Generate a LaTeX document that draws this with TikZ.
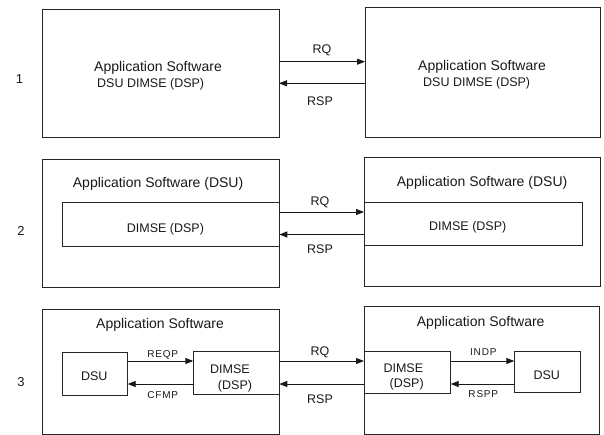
\documentclass[tikz,border=0pt]{standalone}
\usepackage{fontspec}
\setmainfont{Liberation Sans}
\usetikzlibrary{arrows.meta,fit}
\begin{document}
\begin{tikzpicture}[x=1pt,y=-1pt,
  box/.style={draw=black!85, line width=0.8pt, inner sep=0pt, outer sep=0pt},
  arr/.style={draw=black!90, line width=0.9pt, -{Triangle[length=8pt,width=6pt]}},
  big/.style={font=\fontsize{14}{16}\selectfont, text=black!90, inner sep=0pt, anchor=base west},
  midw/.style={font=\fontsize{12.5}{15}\selectfont, text=black!90, inner sep=0pt, anchor=base west},
  lbl/.style={font=\fontsize{12.5}{15}\selectfont, text=black!90, inner sep=0pt, anchor=base},
  small/.style={font=\fontsize{10}{12}\selectfont\addfontfeature{LetterSpace=8}, text=black!90, inner sep=0pt, anchor=base},
  num/.style={font=\fontsize{13}{15}\selectfont, text=black!90, inner sep=0pt, anchor=base}]
\useasboundingbox (0,0) rectangle (604,435);

% ---------- row 1 ----------
\node[box, fit={(42,9) (279,137.5)}] (L1) {};
\node[box, fit={(365,7.5) (600.5,137)}] (R1) {};
\node[num] (n1) at (19.5,83.5) {1};
\node[big] (L1a) at (94,72) {Application Software};
\node[midw] (L1b) at (97,88) {DSU DIMSE (DSP)};
\node[big] (R1a) at (418,71) {Application Software};
\node[midw] (R1b) at (423,87) {DSU DIMSE (DSP)};
\coordinate (y1q) at (0,61.7);
\coordinate (y1s) at (0,83.3);
\draw[arr] (L1.east |- y1q) -- (R1.west |- y1q);
\draw[arr] (R1.west |- y1s) -- (L1.east |- y1s);
\node[lbl] (q1) at (322,53.5) {RQ};
\node[lbl] (s1) at (320,105.5) {RSP};

% ---------- row 2 ----------
\node[box, fit={(42.3,159.3) (279.3,287.7)}] (L2) {};
\node[box, fit={(62.7,202.7) (279.3,246)}] (L2i) {};
\node[box, fit={(364,157.3) (600.5,286.7)}] (R2) {};
\node[box, fit={(364,202.3) (582.7,245)}] (R2i) {};
\node[num] (n2) at (21,236) {2};
\node[big] (L2a) at (72.7,188) {Application Software (DSU)};
\node[midw] (L2b) at (126.7,233) {DIMSE (DSP)};
\node[big] (R2a) at (396.7,187) {Application Software (DSU)};
\node[midw] (R2b) at (429,230.5) {DIMSE (DSP)};
\coordinate (y2q) at (0,212);
\coordinate (y2s) at (0,234.5);
\draw[arr] (L2i.east |- y2q) -- (R2i.west |- y2q);
\draw[arr] (R2i.west |- y2s) -- (L2i.east |- y2s);
\node[lbl] (q2) at (320,205.5) {RQ};
\node[lbl] (s2) at (320,253.5) {RSP};

% ---------- row 3 ----------
\node[box, fit={(42.3,309) (279.3,434)}] (L3) {};
\node[box, fit={(364,306.7) (599,434)}] (R3) {};
\node[box, fit={(62.7,352.3) (127.7,395)}] (L3u) {};
\node[box, fit={(193.3,351.7) (279.3,394.3)}] (L3d) {};
\node[box, fit={(364,351) (450.7,393.3)}] (R3d) {};
\node[box, fit={(514.3,351) (580.7,392.3)}] (R3u) {};
\node[num] (n3) at (21,386) {3};
\node[big] (L3a) at (96,328) {Application Software};
\node[big] (R3a) at (416.7,326.5) {Application Software};
\node[lbl] (L3ut) at (94.3,380.5) {DSU};
\node[lbl] (L3d1) at (230,373.5) {DIMSE};
\node[lbl] (L3d2) at (235,389) {(DSP)};
\node[lbl] (R3d1) at (403.3,372) {DIMSE};
\node[lbl] (R3d2) at (406.7,387.5) {(DSP)};
\node[lbl] (R3ut) at (546.7,379.5) {DSU};
\coordinate (y3q) at (0,361);
\coordinate (y3s) at (0,384);
\draw[arr] (L3u.east |- y3q) -- (L3d.west |- y3q);
\draw[arr] (L3d.west |- y3s) -- (L3u.east |- y3s);
\draw[arr] (L3d.east |- y3q) -- (R3d.west |- y3q);
\draw[arr] (R3d.west |- y3s) -- (L3d.east |- y3s);
\draw[arr] (R3d.east |- y3q) -- (R3u.west |- y3q);
\draw[arr] (R3u.west |- y3s) -- (R3d.east |- y3s);
\node[small] (reqp) at (162.8,357) {REQP};
\node[small] (cfmp) at (162.8,398.5) {CFMP};
\node[small] (indp) at (483.3,355) {INDP};
\node[small] (rspp) at (483.3,397) {RSPP};
\node[lbl] (q3) at (320,355.5) {RQ};
\node[lbl] (s3) at (320,403.5) {RSP};
\end{tikzpicture}
\end{document}
